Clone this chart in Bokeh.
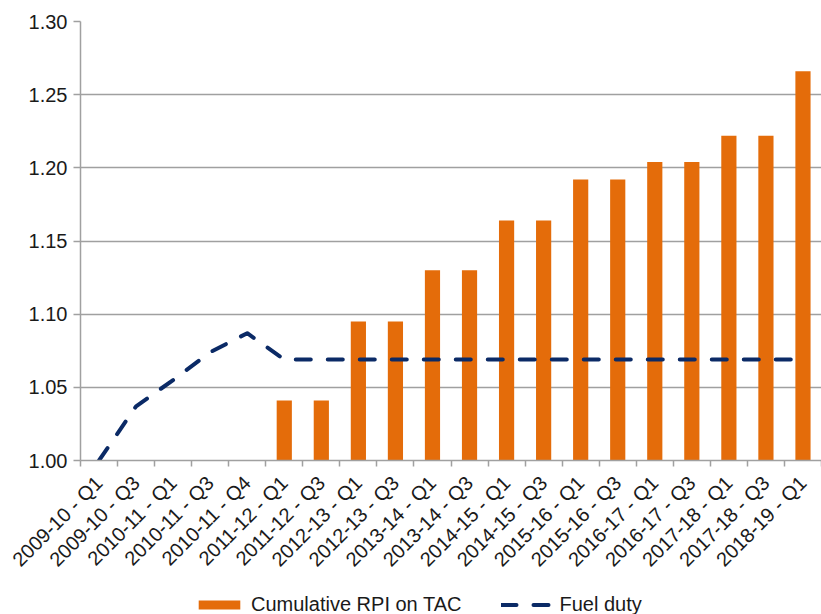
from bokeh.plotting import figure
from bokeh.models import (FixedTicker, NumeralTickFormatter, Range1d, Legend, LegendItem,
                          ColumnDataSource)
from bokeh.layouts import column
from bokeh.embed import file_html
from bokeh.resources import INLINE
import math

categories = ["2009-10 - Q1", "2009-10 - Q3", "2010-11 - Q1", "2010-11 - Q3", "2010-11 - Q4",
              "2011-12 - Q1", "2011-12 - Q3", "2012-13 - Q1", "2012-13 - Q3", "2013-14 - Q1",
              "2013-14 - Q3", "2014-15 - Q1", "2014-15 - Q3", "2015-16 - Q1", "2015-16 - Q3",
              "2016-17 - Q1", "2016-17 - Q3", "2017-18 - Q1", "2017-18 - Q3", "2018-19 - Q1"]
rpi_tac = [None, None, None, None, None,
           1.041, 1.041, 1.095, 1.095, 1.130,
           1.130, 1.164, 1.164, 1.192, 1.192,
           1.204, 1.204, 1.222, 1.222, 1.266]
fuel_duty = [1.000, 1.037, 1.055, 1.074, 1.087,
             1.069, 1.069, 1.069, 1.069, 1.069,
             1.069, 1.069, 1.069, 1.069, 1.069,
             1.069, 1.069, 1.069, 1.069, 1.069]
y_ticks = [1.00, 1.05, 1.10, 1.15, 1.20, 1.25, 1.30]
series_names = ["Cumulative RPI on TAC", "Fuel duty"]

idx = list(range(len(categories)))
rpi_vals = [float("nan") if v is None else v for v in rpi_tac]
src = ColumnDataSource(dict(x=idx, rpi=rpi_vals, fuel=fuel_duty))

ORANGE = "#E46C0A"
NAVY = "#0B2A66"
GRID = "#A0A0A0"
FONT = "Liberation Sans"
TXT = "#1a1a1a"
DASH = "15 17"

p = figure(frame_width=741, frame_height=439, output_backend="svg", toolbar_location=None,
           x_range=Range1d(-0.5, len(categories) - 0.5), y_range=Range1d(1.0, 1.30),
           min_border_left=80, min_border_right=0, min_border_top=21, min_border_bottom=154)
p.outline_line_color = None
p.background_fill_color = "white"

bars = p.vbar(x="x", top="rpi", bottom=1.0, width=0.41, source=src,
              fill_color=ORANGE, line_color=None)
line = p.line(x="x", y="fuel", source=src, line_color=NAVY, line_width=4,
              line_dash=DASH, line_cap="round", line_join="round")

# x axis: labels at category centres, ticks at boundaries
xa = p.xaxis[0]
xa.ticker = FixedTicker(ticks=idx, minor_ticks=[i - 0.5 for i in range(len(categories) + 1)])
xa.major_label_overrides = {i: c for i, c in zip(idx, categories)}
xa.major_label_orientation = math.pi / 4
xa.major_tick_line_color = None
xa.minor_tick_line_color = GRID
xa.minor_tick_line_width = 1.5
xa.minor_tick_out = 6
xa.minor_tick_in = 0
xa.axis_line_color = GRID
xa.axis_line_width = 1.5
xa.major_label_text_font = FONT
xa.major_label_text_font_size = "20px"
xa.major_label_text_color = TXT
xa.major_label_standoff = 13

ya = p.yaxis[0]
ya.ticker = FixedTicker(ticks=y_ticks)
ya.formatter = NumeralTickFormatter(format="0.00")
ya.axis_line_color = GRID
ya.axis_line_width = 1.5
ya.major_tick_line_color = GRID
ya.major_tick_line_width = 1.5
ya.major_tick_out = 7
ya.major_tick_in = 0
ya.minor_tick_line_color = None
ya.major_label_text_font = FONT
ya.major_label_text_font_size = "20px"
ya.major_label_text_color = TXT
ya.major_label_standoff = 6

p.xgrid.grid_line_color = None
p.ygrid.grid_line_color = GRID
p.ygrid.grid_line_width = 1.5
p.ygrid.ticker = FixedTicker(ticks=y_ticks)

# separate strip for the legend, pulled up over the bottom border of the chart
lg = figure(width=821, height=24, output_backend="svg", toolbar_location=None,
            x_range=Range1d(0, 1), y_range=Range1d(0, 1), x_axis_type=None, y_axis_type=None,
            min_border=0, min_border_left=0, min_border_right=0, min_border_top=0,
            min_border_bottom=0)
lg.outline_line_color = None
lg.background_fill_alpha = 0
lg.border_fill_alpha = 0
lg.xgrid.visible = False
lg.ygrid.visible = False
dummy_bar = lg.vbar(x=[5], top=[5], bottom=4, width=0.4, fill_color=ORANGE, line_color=None)
dummy_line = lg.line(x=[5, 6], y=[5, 5], line_color=NAVY, line_width=4,
                     line_dash=DASH, line_cap="round")
legend = Legend(items=[LegendItem(label=series_names[0], renderers=[dummy_bar]),
                       LegendItem(label=series_names[1], renderers=[dummy_line])],
                orientation="horizontal", location=(113, 0),
                label_text_font=FONT, label_text_font_size="20px", label_text_color=TXT,
                glyph_width=52, glyph_height=11, label_standoff=6, spacing=40,
                padding=0, margin=0, border_line_color=None, background_fill_alpha=0)
lg.add_layout(legend, "center")
lg.margin = (-22, 0, 0, 0)

layout = column(p, lg, spacing=0)
open("out.html", "w").write(file_html(layout, INLINE))
